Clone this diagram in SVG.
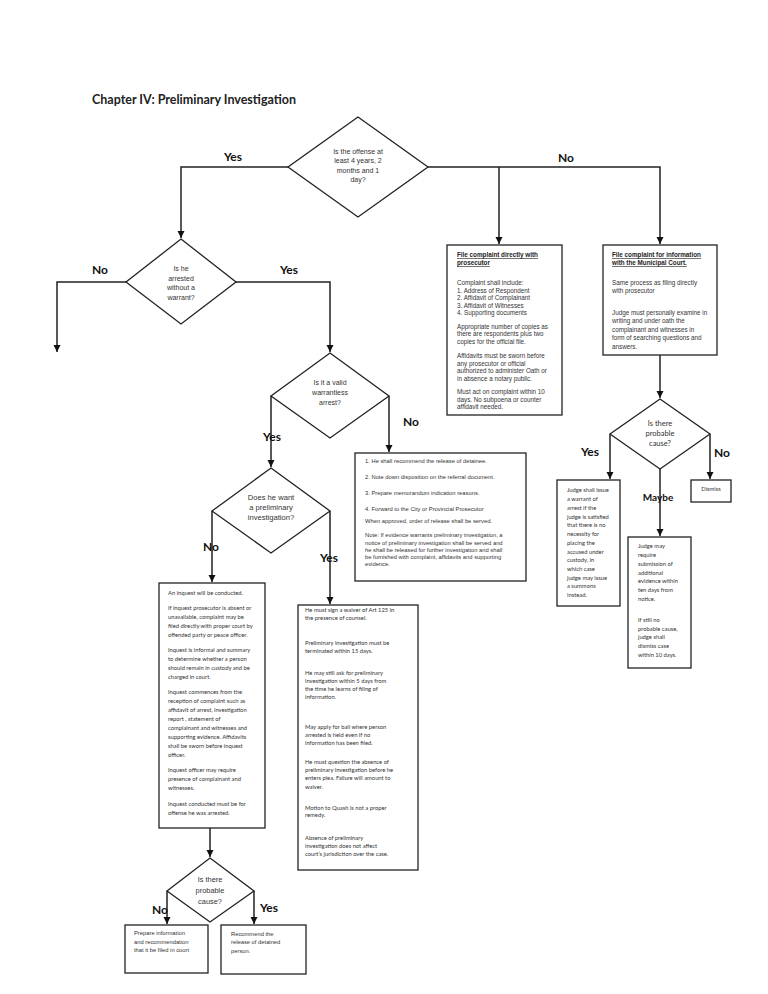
<svg xmlns="http://www.w3.org/2000/svg" width="768" height="994" viewBox="0 0 768 994">
<style>
.bg{fill:#fff}
.box{fill:#fff;stroke:#222;stroke-width:1.3}
.dia{fill:#fff;stroke:#222;stroke-width:1.3}
.ln{fill:none;stroke:#222;stroke-width:1.5}
.title{font-family:Lato,"Liberation Sans",sans-serif;font-weight:bold;font-size:12.5px;fill:#222}
.lbl{font-family:Lato,"Liberation Sans",sans-serif;font-weight:bold;font-size:12px;fill:#111}
.a{font-family:"Liberation Sans",Arial,sans-serif;font-size:6.3px;fill:#333}
.a7{font-family:"Liberation Sans",Arial,sans-serif;font-size:7px;fill:#333;text-anchor:middle}
.ah{font-family:"Liberation Sans",Arial,sans-serif;font-size:6.3px;font-weight:bold;fill:#222;text-decoration:underline}
.c{font-family:Lato,"Liberation Sans",sans-serif;font-size:5.8px;fill:#333}
.c7{font-family:Lato,"Liberation Sans",sans-serif;font-size:7.5px;fill:#333;text-anchor:middle}
</style>
<defs>
<marker id="arr" markerUnits="userSpaceOnUse" markerWidth="8" markerHeight="8" refX="7" refY="4" orient="auto">
<path d="M0,0.5 L7,4 L0,7.5 z" fill="#111"/>
</marker>
</defs>
<rect class="bg" x="0" y="0" width="768" height="994"/>
<text class="title" x="92" y="104" textLength="204" lengthAdjust="spacingAndGlyphs">Chapter IV: Preliminary Investigation</text>

<g id="connectors">
<path class="ln" d="M288,167 H181 V238" marker-end="url(#arr)"/>
<path class="ln" d="M428,167 H660 V244" marker-end="url(#arr)"/>
<path class="ln" d="M499,167 V244" marker-end="url(#arr)"/>
<path class="ln" d="M660,355 V398" marker-end="url(#arr)"/>
<path class="ln" d="M610,434 V479" marker-end="url(#arr)"/>
<path class="ln" d="M710,434 V479" marker-end="url(#arr)"/>
<path class="ln" d="M660,469 V536" marker-end="url(#arr)"/>
<path class="ln" d="M126,282 H57 V352" marker-end="url(#arr)"/>
<path class="ln" d="M236,282 H330 V352" marker-end="url(#arr)"/>
<path class="ln" d="M389,396 V452" marker-end="url(#arr)"/>
<path class="ln" d="M271,396 V467" marker-end="url(#arr)"/>
<path class="ln" d="M212,511 V582" marker-end="url(#arr)"/>
<path class="ln" d="M330,511 V604" marker-end="url(#arr)"/>
<path class="ln" d="M210,828 V857" marker-end="url(#arr)"/>
<path class="ln" d="M167,891 V924" marker-end="url(#arr)"/>
<path class="ln" d="M254,891 V924" marker-end="url(#arr)"/>
<text class="lbl" x="233" y="161" text-anchor="middle">Yes</text>
<text class="lbl" x="566" y="162" text-anchor="middle">No</text>
<text class="lbl" x="100" y="274" text-anchor="middle">No</text>
<text class="lbl" x="289" y="274" text-anchor="middle">Yes</text>
<text class="lbl" x="411" y="426" text-anchor="middle">No</text>
<text class="lbl" x="272" y="441" text-anchor="middle">Yes</text>
<text class="lbl" x="211" y="551" text-anchor="middle">No</text>
<text class="lbl" x="329" y="562" text-anchor="middle">Yes</text>
<text class="lbl" x="590" y="456" text-anchor="middle">Yes</text>
<text class="lbl" x="722" y="457" text-anchor="middle">No</text>
<text class="lbl" x="658" y="501" text-anchor="middle" style="font-size:10px">Maybe</text>
<text class="lbl" x="160" y="914" text-anchor="middle">No</text>
<text class="lbl" x="269" y="912" text-anchor="middle">Yes</text>
</g>

<g id="d1">
<polygon class="dia" points="358,117 428,167 358,217 288,167"/>
<text class="a7" x="358" y="153.5">Is the offense at</text>
<text class="a7" x="358" y="163">least 4 years, 2</text>
<text class="a7" x="358" y="172.5">months and 1</text>
<text class="a7" x="358" y="182">day?</text>
</g>

<g id="d2">
<polygon class="dia" points="181,239 236,282 181,324 126,282"/>
<text class="a7" x="181" y="270.5">Is he</text>
<text class="a7" x="181" y="280.5">arrested</text>
<text class="a7" x="181" y="290">without a</text>
<text class="a7" x="181" y="299.5">warrant?</text>
</g>

<g id="d3">
<polygon class="dia" points="330,353 389,396 330,438 271,396"/>
<text class="a7" x="330" y="384.5">Is it a valid</text>
<text class="a7" x="330" y="394.5">warrantless</text>
<text class="a7" x="330" y="404.5">arrest?</text>
</g>

<g id="d5">
<polygon class="dia" points="271,468 330,511 271,553 212,511"/>
<text class="a7" x="271" y="500" style="font-size:7.6px">Does he want</text>
<text class="a7" x="271" y="510" style="font-size:7.6px">a preliminary</text>
<text class="a7" x="271" y="520" style="font-size:7.6px">investigation?</text>
</g>

<g id="d4">
<polygon class="dia" points="660,399 710,434 660,469 610,434"/>
<text class="c7" x="660" y="425.5">Is there</text>
<text class="c7" x="660" y="435.5">probable</text>
<text class="c7" x="660" y="445.5">cause?</text>
</g>

<g id="d6">
<polygon class="dia" points="210,858 254,891 210,922 167,891"/>
<text class="a7" x="210" y="881.5" style="font-size:7.4px">Is there</text>
<text class="a7" x="210" y="892.5" style="font-size:7.4px">probable</text>
<text class="a7" x="210" y="903.5" style="font-size:7.4px">cause?</text>
</g>

<g id="b1">
<rect class="box" x="447" y="245" width="115" height="170"/>
<text class="ah" x="457" y="257">File complaint directly with</text>
<text class="ah" x="457" y="265">prosecutor</text>
<text class="a" x="457" y="285">Complaint shall include:</text>
<text class="a" x="457" y="292.5">1. Address of Respondent</text>
<text class="a" x="457" y="300">2. Affidavit of Complainant</text>
<text class="a" x="457" y="307.5">3. Affidavit of Witnesses</text>
<text class="a" x="457" y="315">4. Supporting documents</text>
<text class="a" x="457" y="328.5">Appropriate number of copies as</text>
<text class="a" x="457" y="336">there are respondents plus two</text>
<text class="a" x="457" y="343.5">copies for the official file.</text>
<text class="a" x="457" y="358">Affidavits must be sworn before</text>
<text class="a" x="457" y="365.5">any prosecutor or official</text>
<text class="a" x="457" y="373">authorized to administer Oath or</text>
<text class="a" x="457" y="380.5">in absence a notary public.</text>
<text class="a" x="457" y="394">Must act on complaint within 10</text>
<text class="a" x="457" y="401.5">days. No subpoena or counter</text>
<text class="a" x="457" y="409">affidavit needed.</text>
</g>

<g id="b2">
<rect class="box" x="603" y="245" width="114" height="110"/>
<text class="ah" x="612" y="257">File complaint for information</text>
<text class="ah" x="612" y="265">with the Municipal Court.</text>
<text class="a" x="612" y="285">Same process as filing directly</text>
<text class="a" x="612" y="293">with prosecutor</text>
<text class="a" x="612" y="314.5">Judge must personally examine in</text>
<text class="a" x="612" y="323">writing and under oath the</text>
<text class="a" x="612" y="331.5">complainant and witnesses in</text>
<text class="a" x="612" y="340">form of searching questions and</text>
<text class="a" x="612" y="348.5">answers.</text>
</g>

<g id="b3">
<rect class="box" x="355" y="453" width="171" height="128"/>
<text class="a" x="365" y="463" style="font-size:5.8px">1. He shall recommend the release of detainee.</text>
<text class="a" x="365" y="479" style="font-size:5.8px">2. Note down disposition on the referral document.</text>
<text class="a" x="365" y="495" style="font-size:5.8px">3. Prepare memorandum indication reasons.</text>
<text class="a" x="365" y="511" style="font-size:5.8px">4. Forward to the City or Provincial Prosecutor</text>
<text class="a" x="365" y="523" style="font-size:5.8px">When approved, order of release shall be served.</text>
<text class="a" x="365" y="537" style="font-size:5.8px">Note: If evidence warrants preliminary investigation, a</text>
<text class="a" x="365" y="544.5" style="font-size:5.8px">notice of preliminary investigation shall be served and</text>
<text class="a" x="365" y="551.5" style="font-size:5.8px">he shall be released for further investigation and shall</text>
<text class="a" x="365" y="558.5" style="font-size:5.8px">be furnished with complaint, affidavits and supporting</text>
<text class="a" x="365" y="565.5" style="font-size:5.8px">evidence.</text>
</g>

<g id="b4">
<rect class="box" x="159" y="583" width="106" height="245"/>
<text class="c" x="168" y="595">An inquest will be conducted.</text>
<text class="c" x="168" y="610">If inquest prosecutor is absent or</text>
<text class="c" x="168" y="619">unavailable, complaint may be</text>
<text class="c" x="168" y="628">filed directly with proper court by</text>
<text class="c" x="168" y="637">offended party or peace officer.</text>
<text class="c" x="168" y="652">Inquest is informal and summary</text>
<text class="c" x="168" y="661">to determine whether a person</text>
<text class="c" x="168" y="670">should remain in custody and be</text>
<text class="c" x="168" y="679">charged in court.</text>
<text class="c" x="168" y="694">Inquest commences from the</text>
<text class="c" x="168" y="703">reception of complaint such as</text>
<text class="c" x="168" y="712">affidavit of arrest, investigation</text>
<text class="c" x="168" y="721">report , statement of</text>
<text class="c" x="168" y="730">complainant and witnesses and</text>
<text class="c" x="168" y="739">supporting evidence. Affidavits</text>
<text class="c" x="168" y="748">shall be sworn before inquest</text>
<text class="c" x="168" y="757">officer.</text>
<text class="c" x="168" y="772">Inquest officer may require</text>
<text class="c" x="168" y="781">presence of complainant and</text>
<text class="c" x="168" y="790">witnesses.</text>
<text class="c" x="168" y="806">Inquest conducted must be for</text>
<text class="c" x="168" y="815">offense he was arrested.</text>
</g>

<g id="b5">
<rect class="box" x="298" y="605" width="120" height="265"/>
<text class="c" x="305" y="612">He must sign a waiver of Art 125 in</text>
<text class="c" x="305" y="620">the presence of counsel.</text>
<text class="c" x="305" y="645">Preliminary investigation must be</text>
<text class="c" x="305" y="653">terminated within 15 days.</text>
<text class="c" x="305" y="675">He may still ask for preliminary</text>
<text class="c" x="305" y="683">investigation within 5 days from</text>
<text class="c" x="305" y="691">the time he learns of filing of</text>
<text class="c" x="305" y="699">information.</text>
<text class="c" x="305" y="729">May apply for bail where person</text>
<text class="c" x="305" y="737">arrested is held even if no</text>
<text class="c" x="305" y="745">information has been filed.</text>
<text class="c" x="305" y="764">He must question the absence of</text>
<text class="c" x="305" y="772">preliminary investigation before he</text>
<text class="c" x="305" y="780">enters plea. Failure will amount to</text>
<text class="c" x="305" y="789">waiver.</text>
<text class="c" x="305" y="810">Motion to Quash is not a proper</text>
<text class="c" x="305" y="817">remedy.</text>
<text class="c" x="305" y="840">Absence of preliminary</text>
<text class="c" x="305" y="848">investigation does not affect</text>
<text class="c" x="305" y="856">court’s jurisdiction over the case.</text>
</g>

<g id="b6">
<rect class="box" x="557" y="480" width="63" height="126"/>
<text class="c" x="567" y="492">Judge shall issue</text>
<text class="c" x="567" y="501">a warrant of</text>
<text class="c" x="567" y="510">arrest if the</text>
<text class="c" x="567" y="518.5">judge is satisfied</text>
<text class="c" x="567" y="527">that there is no</text>
<text class="c" x="567" y="536">necessity for</text>
<text class="c" x="567" y="545">placing the</text>
<text class="c" x="567" y="553.5">accused under</text>
<text class="c" x="567" y="562">custody, in</text>
<text class="c" x="567" y="571">which case</text>
<text class="c" x="567" y="579.5">judge may issue</text>
<text class="c" x="567" y="588">a summons</text>
<text class="c" x="567" y="597">instead.</text>
</g>

<g id="b7">
<rect class="box" x="691" y="480" width="40" height="22"/>
<text class="c" x="711" y="491" text-anchor="middle">Dismiss</text>
</g>

<g id="b8">
<rect class="box" x="628" y="537" width="63" height="131"/>
<text class="c" x="638" y="548">Judge may</text>
<text class="c" x="638" y="557">require</text>
<text class="c" x="638" y="566">submission of</text>
<text class="c" x="638" y="574.5">additional</text>
<text class="c" x="638" y="583">evidence within</text>
<text class="c" x="638" y="592">ten days from</text>
<text class="c" x="638" y="601">notice.</text>
<text class="c" x="638" y="622">If still no</text>
<text class="c" x="638" y="630.5">probable cause,</text>
<text class="c" x="638" y="639">judge shall</text>
<text class="c" x="638" y="648">dismiss case</text>
<text class="c" x="638" y="657">within 10 days.</text>
</g>

<g id="b9">
<rect class="box" x="125" y="925" width="83" height="48"/>
<text class="a" x="134" y="935" style="font-size:5.8px">Prepare information</text>
<text class="a" x="134" y="944" style="font-size:5.8px">and recommendation</text>
<text class="a" x="134" y="952" style="font-size:5.8px">that it be filed in court</text>
</g>

<g id="b10">
<rect class="box" x="221" y="925" width="85" height="49"/>
<text class="a" x="231" y="936" style="font-size:5.8px">Recommend the</text>
<text class="a" x="231" y="944" style="font-size:5.8px">release of detained</text>
<text class="a" x="231" y="953" style="font-size:5.8px">person.</text>
</g>
</svg>
